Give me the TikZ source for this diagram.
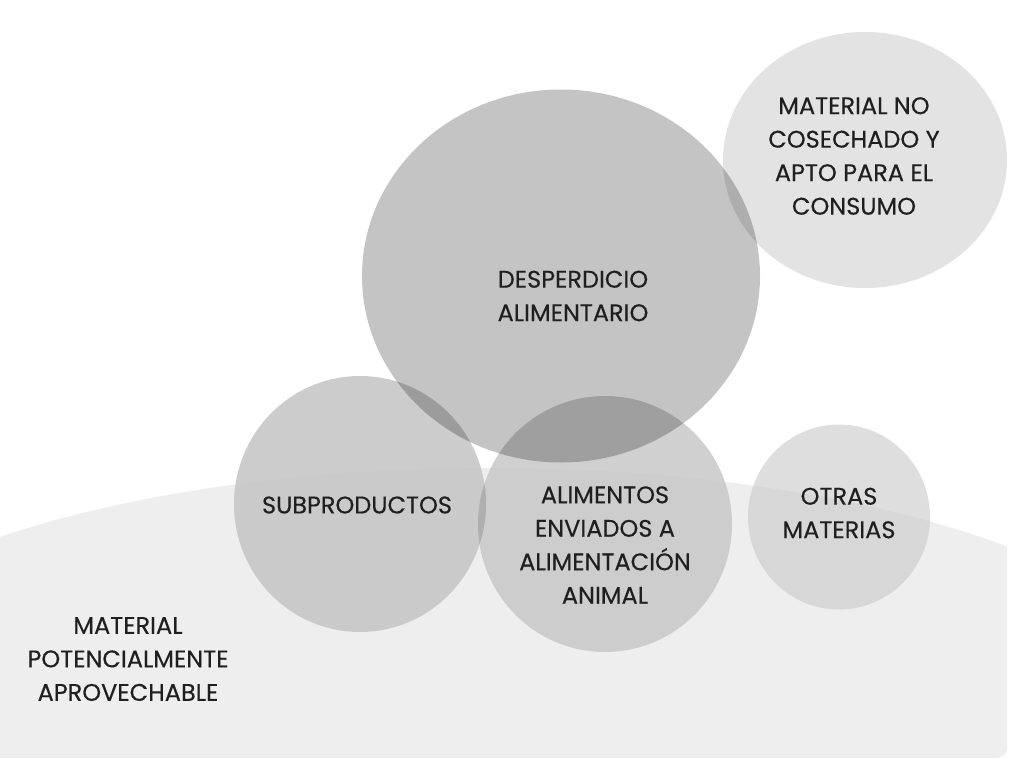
\documentclass[tikz,border=0pt]{standalone}
\usepackage{fontspec}
\setmainfont{Poppins}[FakeBold=0.35]
\usetikzlibrary{shapes.geometric}
\tikzset{
  blob/.style={ellipse, draw=none, fill=black, inner sep=0pt},
  lbl/.style={align=center, text=black!88, font=\fontsize{24}{33.5}\selectfont, inner sep=0pt}
}
\begin{document}
\begin{tikzpicture}[x=1pt,y=-1pt]
\useasboundingbox (0,0) rectangle (1024,765);
\fill[white] (0,0) rectangle (1024,765);
% circles
\node[blob, fill opacity=0.11, minimum width=284pt, minimum height=256pt] (cns) at (865,160) {};
\node[blob, fill opacity=0.23, minimum width=398pt, minimum height=373pt] (cda) at (561,276) {};
\node[blob, fill opacity=0.20, minimum width=252pt, minimum height=256pt] (csp) at (360,504) {};
\node[blob, fill opacity=0.185, minimum width=254pt, minimum height=256pt] (caa) at (605,524) {};
\node[blob, fill opacity=0.13, minimum width=182pt, minimum height=185pt] (com) at (839,517) {};
% large base shape
\begin{scope}
\clip[rounded corners=10pt] (-30,400) rectangle (1007,758);
\fill[black!22, fill opacity=0.3] (490,709) ellipse [x radius=700, y radius=241];
\end{scope}
% labels
\node[lbl] (tns) at (854,156) {MATERIAL NO\\COSECHADO Y\\APTO PARA EL\\CONSUMO};
\node[lbl] (tda) at (573,296) {DESPERDICIO\\ALIMENTARIO};
\node[lbl] (tsp) at (357,505) {SUBPRODUCTOS};
\node[lbl] (taa) at (605,545) {ALIMENTOS\\ENVIADOS A\\ALIMENTACIÓN\\ANIMAL};
\node[lbl] (tom) at (839,513) {OTRAS\\MATERIAS};
\node[lbl] (tmp) at (128,659) {MATERIAL\\POTENCIALMENTE\\APROVECHABLE};
\end{tikzpicture}
\end{document}
